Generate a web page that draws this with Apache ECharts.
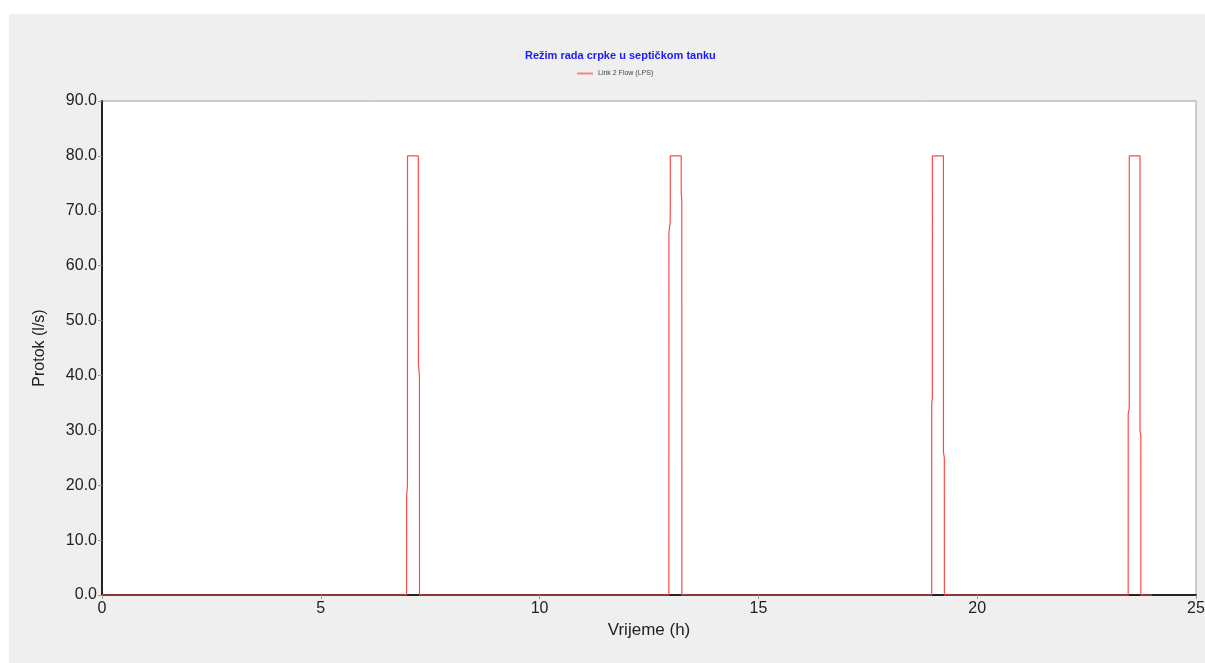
<!DOCTYPE html>
<html>
<head>
<meta charset="utf-8">
<script src="https://cdn.jsdelivr.net/npm/echarts@6/dist/echarts.min.js"></script>
<style>
  html, body { margin: 0; padding: 0; background: #ffffff; overflow: hidden; }
  #bg { position: absolute; left: 9px; top: 14px; width: 1196px; height: 649px; background: #efefef; }
  #chart { position: absolute; left: 0; top: 0; width: 1205px; height: 663px; }
</style>
</head>
<body>
<div id="bg"></div>
<div id="chart"></div>
<script>
// Data
var chartTitle = 'Režim rada crpke u septičkom tanku';
var seriesName = 'Link 2 Flow (LPS)';
var xAxisName = 'Vrijeme (h)';
var yAxisName = 'Protok (l/s)';

// time (h)
var timeHours = [
  0, 6.96, 6.962, 6.98, 6.982, 7.228, 7.23, 7.254, 7.256,
  12.953, 12.955, 12.985, 12.987, 13.236, 13.237, 13.249, 13.25,
  18.96, 18.961, 18.976, 18.977, 19.228, 19.229, 19.249, 19.25,
  23.45, 23.451, 23.475, 23.476, 23.72, 23.721, 23.739, 23.74,
  24
];
// flow (l/s)
var flowLps = [
  0, 0, 18, 20, 80, 80, 42, 40, 0,
  0, 66, 68, 80, 80, 73, 72, 0,
  0, 35, 36, 80, 80, 26, 25, 0,
  0, 33, 34, 80, 80, 30, 29, 0,
  0
];

var xTicks = { min: 0, max: 25, interval: 5 };
var yTicks = { min: 0, max: 90, interval: 10 };

var seriesData = timeHours.map(function (t, i) { return [t, flowLps[i]]; });

var chart = echarts.init(document.getElementById('chart'), null, { renderer: 'canvas' });
var font = '"Liberation Sans", Arial, sans-serif';
chart.setOption({
  backgroundColor: 'transparent',
  animation: false,
  color: ['#ff4a4a'],
  title: {
    text: chartTitle,
    left: 520,
    top: 45,
    textStyle: { color: '#1a1aff', fontSize: 11, fontWeight: 'bold', fontFamily: font }
  },
  legend: {
    top: 65,
    left: 572,
    icon: 'rect',
    itemWidth: 16,
    itemHeight: 2,
    itemGap: 4,
    itemStyle: { color: '#ff8080' },
    lineStyle: { color: '#ff8080' },
    textStyle: { color: '#444', fontSize: 7, fontFamily: font },
    data: [{ name: seriesName, icon: 'rect', itemStyle: { color: '#ff8080' } }]
  },
  grid: {
    left: 102, right: 9, top: 101, bottom: 68,
    outerBoundsMode: 'none',
    containLabel: false,
    show: true,
    backgroundColor: '#ffffff',
    borderColor: '#a0a0a0',
    borderWidth: 1
  },
  xAxis: {
    type: 'value',
    min: xTicks.min, max: xTicks.max, interval: xTicks.interval,
    name: xAxisName,
    nameLocation: 'middle',
    nameGap: 26,
    nameTextStyle: { color: '#222', fontSize: 17, fontFamily: font },
    axisLine: { show: true, onZero: false, lineStyle: { color: '#222', width: 2 } },
    axisTick: { show: true, length: 4, lineStyle: { color: '#999' } },
    axisLabel: { color: '#222', fontSize: 16, fontFamily: font, margin: 6 },
    splitLine: { show: false }
  },
  yAxis: {
    type: 'value',
    min: yTicks.min, max: yTicks.max, interval: yTicks.interval,
    name: yAxisName,
    nameLocation: 'middle',
    nameRotate: 90,
    nameGap: 54,
    nameTextStyle: { color: '#222', fontSize: 16, fontFamily: font },
    axisLine: { show: true, onZero: false, lineStyle: { color: '#222', width: 2 } },
    axisTick: { show: true, length: 4, lineStyle: { color: '#999' } },
    axisLabel: {
      color: '#222', fontSize: 16, fontFamily: font, margin: 5,
      formatter: function (v) { return v.toFixed(1); }
    },
    splitLine: { show: false }
  },
  series: [{
    name: seriesName,
    type: 'line',
    data: seriesData,
    showSymbol: false,
    symbol: 'none',
    lineStyle: { color: '#ff4a4a', width: 1.2 },
    itemStyle: { color: '#ff4a4a' },
    clip: false
  }]
});
</script>
</body>
</html>
